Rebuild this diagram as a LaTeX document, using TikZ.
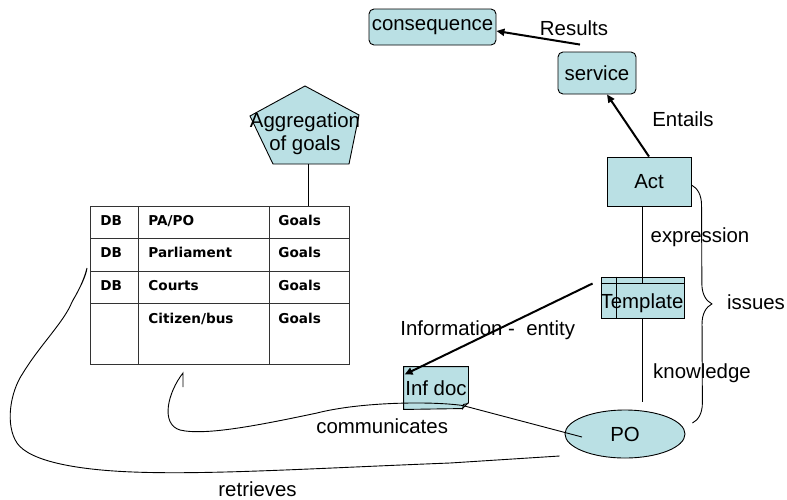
\documentclass[tikz,border=0pt]{standalone}
\usepackage{fontspec}
\setmainfont{Liberation Sans}
\newfontfamily\tabfont{DejaVu Sans}
\usetikzlibrary{positioning,shapes.geometric,arrows.meta,decorations.pathreplacing}
\definecolor{boxfill}{RGB}{186,224,228}

\begin{document}
\begin{tikzpicture}[x=1pt, y=-1pt, line width=0.9pt,
    every node/.style={font=\fontsize{20.4}{23}\selectfont, inner sep=0pt},
    rbox/.style={draw, fill=boxfill, rounded corners=5pt},
    sbox/.style={draw, fill=boxfill},
    lbl/.style={anchor=base},
    cell/.style={font=\tabfont\bfseries\fontsize{13.6}{16}\selectfont, anchor=base west},
    arr/.style={-{Triangle[length=8pt,width=7pt]}, line width=2pt}]

            \useasboundingbox (0,0) rectangle (787,499);

            % Boîtes du haut
            \node[rbox, minimum width=127pt, minimum height=36pt] (conseq) at (432.5,27) {consequence};
            \node[rbox, minimum width=78pt, minimum height=42pt] (service) at (597,73) {service};
            \node[sbox, minimum width=84pt, minimum height=49pt] (act) at (649,181.5) {Act};

            % Template avec ses lignes internes
            \node[sbox, minimum width=83pt, minimum height=41pt] (templ) at (642.5,297.5) {};
            \draw (templ.north west) ++(0,7) -- ++(83,0);
            \draw (templ.north west) ++(16,0) -- ++(0,41);
            \node[lbl] (templtxt) at (642,308) {Template};

            % Document d'information
            \node[minimum width=64pt, minimum height=42pt] (infdoc) at (436,388) {};
            \draw[fill=boxfill] (infdoc.north west) -- (infdoc.north east) -- ++(0,36) -- ++(-6,6)
                -- (infdoc.south west) -- cycle;
            \draw (infdoc.south east) ++(0,-6) -- ++(-5,1) -- ++(-1,5);
            \node at (infdoc.center) {Inf doc};

            % PO
            \node[ellipse, draw, fill=boxfill, minimum width=120pt, minimum height=48pt] (po) at (625,434) {PO};

            % Pentagone
            \draw[fill=boxfill] (250,116) -- (305,86) -- (359,115) -- (349,164) -- (273,164) -- cycle;
            \node[align=center] (aggr) at (305,134) {Aggregation\\of goals};
            \coordinate (aggrb) at (308,164);

            % Tableau
            \draw[black!80] (90,206) rectangle (349,364);
            \foreach \y in {238,271,303} {
                \draw[black!80] (90,\y) -- (349,\y);
            }
            \foreach \x in {138,269} {
                \draw[black!80] (\x,206) -- (\x,364);
            }
            \coordinate (tabtop) at (308,206);
            \foreach \db/\org [count=\i from 0] in {DB/{PA/PO}, DB/Parliament, DB/Courts, {}/{Citizen/bus}} {
                \pgfmathsetmacro{\by}{225+\i*32.7}
                \node[cell] (db\i) at (100,\by) {\db};
                \node[cell] (org\i) at (148,\by) {\org};
                \node[cell] (goal\i) at (278,\by) {Goals};
            }
            \draw (aggrb) -- (tabtop);

            % Flèches
            \draw[arr] (service.north) ++(-17,-7) -- ([yshift=-4pt]conseq.east);
            \draw[arr] (act.north) -- ([xshift=10pt]service.south);
            \node[lbl] (results) at (574,35) {Results};
            \node[lbl] (entails) at (683,126) {Entails};

            % Lignes verticales
            \draw (templ.center |- act.south) -- ([yshift=-6pt]templ.north);
            \draw[shorten >=8pt] (templ.south) -- (templ.south |- po.north);
            \node[lbl] (expr) at (700,242) {expression};
            \node[lbl] (know) at (702,378) {knowledge};

            % Accolade
            \draw[decorate, decoration={brace, amplitude=20pt}] ([yshift=-3.5pt]act.east) -- ([shift={(7pt,11pt)}]po.east);
            \node[lbl] (issues) at (756,309) {issues};

            % Information - entity
            \node[anchor=base west] (infent) at (400,335) {Information -\ \ entity};
            \draw[arr] ([shift={(-8pt,14pt)}]templ.west) -- ([shift={(1pt,-8pt)}]infdoc.north west);

            % communicates
            \draw (po.center) ++(-43,3) -- ([shift={(-6pt,4pt)}]infdoc.south east)
                .. controls (430,401) and (360,402) .. (317,413)
                .. controls (260,425) and (205,436) .. (180,430)
                .. controls (160,424) and (168,392) .. (183,373) -- ++(0,14);
            \node[anchor=base west] (comm) at (316,433) {communicates};

            % retrieves
            \draw ([shift={(-5pt,-22pt)}]po.west) -- (450,463)
                .. controls (320,468) and (210,475) .. (133,472)
                .. controls (80,470) and (30,462) .. (17,443)
                .. controls (5,425) and (10,392) .. (23,373)
                .. controls (40,345) and (64,322) .. (72,302)
                .. controls (80,288) and (86,276) .. (87,268)
                .. controls (84,280) and (78,292) .. (73,300);
            \node[anchor=base west] (retr) at (218,496) {retrieves};

\end{tikzpicture}
\end{document}
